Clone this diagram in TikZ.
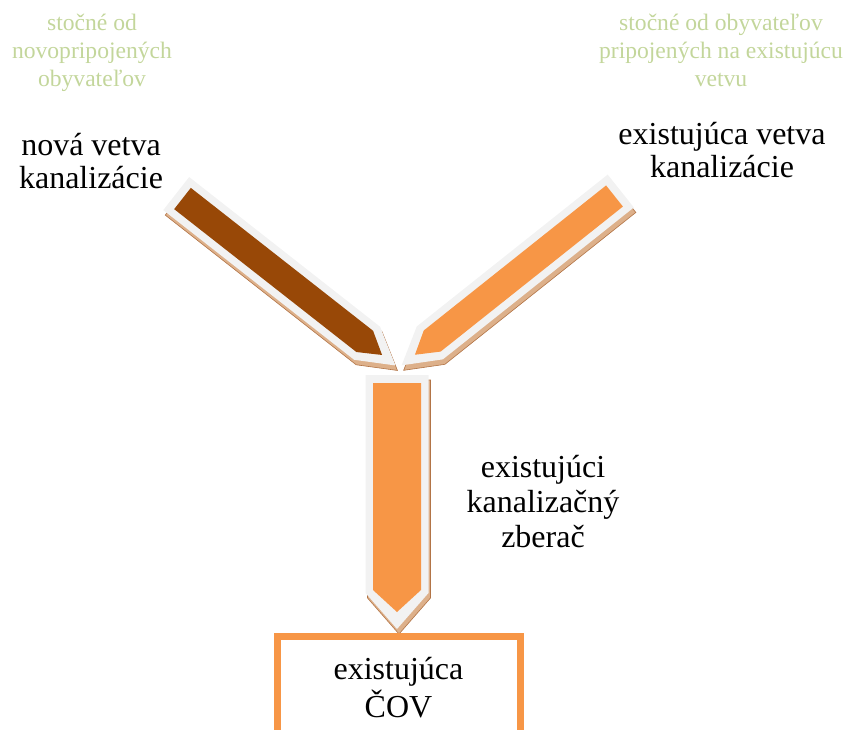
\documentclass[tikz,border=0pt]{standalone}
\usepackage{fontspec}
\setmainfont{Liberation Serif}
\usepackage{tikz}

\definecolor{kanalgray}{HTML}{F2F2F2}
\definecolor{kanalbrown}{HTML}{984807}
\definecolor{kanalorange}{HTML}{F79646}
\definecolor{shadowtan}{HTML}{DDB08A}
\definecolor{shadowbrown}{HTML}{B27446}
\definecolor{notegreen}{HTML}{C3D69B}

\tikzset{label/.style={font=\fontsize{32}{33}\selectfont, align=center, inner sep=0pt, anchor=base}}
\tikzset{note/.style={font=\fontsize{23.6}{28}\selectfont, text=notegreen, align=center, inner sep=0pt, anchor=base}}
\tikzset{kanalshadow/.style={fill=shadowtan, draw=shadowbrown, line width=0.6pt}}
\tikzset{kanalborder/.style={fill=kanalgray}}
\tikzset{covbox/.style={draw=kanalorange, line width=7pt, minimum width=243pt, minimum height=104pt, inner sep=0pt, align=center, font=\fontsize{32}{38}\selectfont}}

% #1 tail, #2 angle, #3 length, #4 width, #5 colour
\newcommand{\kanal}[5]{%
  \begin{scope}[shift={(2,5)}]
    \begin{scope}[shift={#1}, rotate=#2]
      \filldraw[kanalshadow] (-8,{-(#4+15)/2}) -- ({#3+17-36},{-(#4+15)/2}) -- ({#3+17},0)
        -- ({#3+17-36},{(#4+15)/2}) -- (-8,{(#4+15)/2}) -- cycle;
    \end{scope}
  \end{scope}
  \begin{scope}[shift={#1}, rotate=#2]
    \fill[kanalborder] (-8,{-(#4+15)/2}) -- ({#3+17-36},{-(#4+15)/2}) -- ({#3+17},0)
      -- ({#3+17-36},{(#4+15)/2}) -- (-8,{(#4+15)/2}) -- cycle;
    \fill[#5] (0,{-#4/2}) -- ({#3-22},{-#4/2}) -- (#3,0) -- ({#3-22},{#4/2}) -- (0,{#4/2}) -- cycle;
  \end{scope}}

\begin{document}
\begin{tikzpicture}[x=1pt, y=-1pt]
  \useasboundingbox (0,0) rectangle (849,729);

  % stoky
  \kanal{(182.5,198.5)}{-38.1}{253.6}{27}{kanalbrown}
  \kanal{(614.5,196)}{-141.5}{255}{27}{kanalorange}
  \kanal{(397,383)}{-90}{229}{48}{kanalorange}

  % popisy (base = posledny riadok)
  \node[note] (prive) at (92,86) {stočné od\\novopripojených\\obyvateľov};
  \node[note] (prives) at (721,86) {stočné od obyvateľov\\pripojených na existujúcu\\vetvu};

  \node[label] (nova) at (91,188) {nová vetva\\kanalizácie};
  \node[label] (exist) at (722,177) {existujúca vetva\\kanalizácie};
  \node[label, font=\fontsize{32}{35}\selectfont] (zberac) at (543,547)
    {existujúci\\kanalizačný\\zberač};

  \node[covbox] (cov) at (398.5,688) {existujúca\\ČOV};
\end{tikzpicture}
\end{document}
